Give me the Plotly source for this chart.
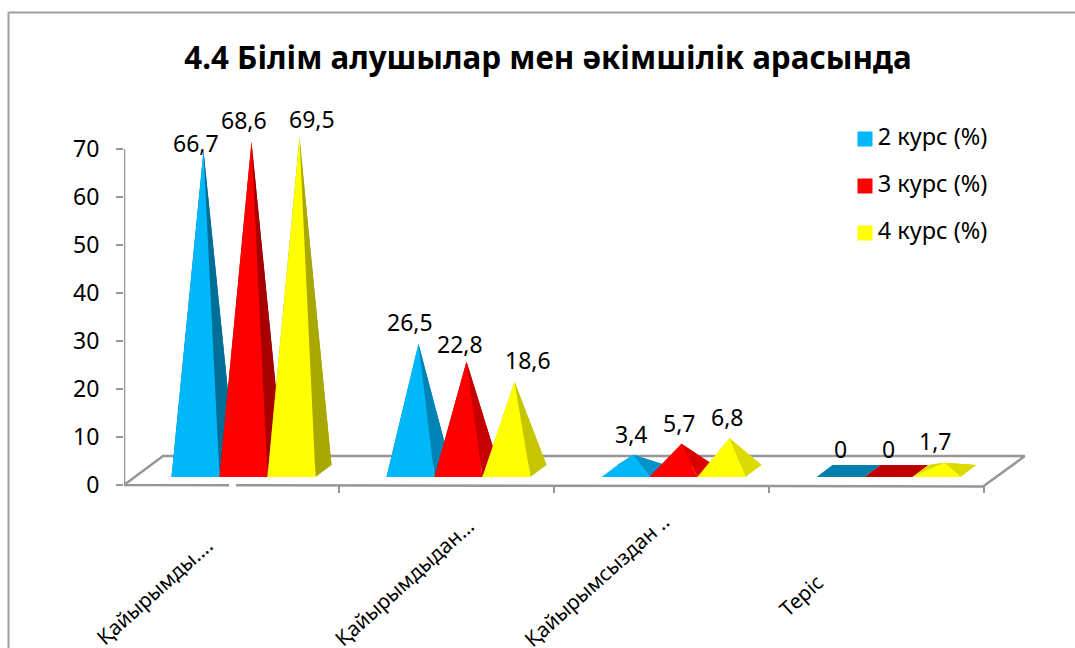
import plotly.graph_objects as go

# ---- data ----
categories = ["Қайырымды....", "Қайырымдыдан...", "Қайырымсыздан ..", "Теріс"]
series_names = ["2 курс (%)", "3 курс (%)", "4 курс (%)"]
course2 = [66.7, 26.5, 3.4, 0]
course3 = [68.6, 22.8, 5.7, 0]
course4 = [69.5, 18.6, 6.8, 1.7]
y_ticks = [0, 10, 20, 30, 40, 50, 60, 70]
title_text = "4.4 Білім алушылар мен әкімшілік арасында"

# ---- styles ----
FONT = "Noto Sans"
W, H = 1075, 648
L, R, T, B = 124, 1025, 149, 485   # pixel box of the value scale
PLOT_TOP, PLOT_BOTTOM = 100, 493   # pixel box of the drawing area
X_PER_CAT = 215.0
Y_PER_UNIT = (B - T) / 70.0
GRAY = "#969696"
front_colors = ["#00B7F9", "#FF0000", "#FFFF00"]
side_rgb = [(0, 182, 249), (255, 0, 0), (255, 255, 0)]


def xd(px):
    return -0.5 + (px - L) / X_PER_CAT


def yd(px):
    return (B - px) / Y_PER_UNIT


def shade(i, v):
    # steep faces are darker than shallow ones
    f = 0.86 if v < 10 else (0.78 if v < 30 else 0.66)
    if v == 0:
        f = 0.75
    r, g, b = side_rgb[i]
    if i == 0:
        f -= 0.05
    return f"rgb({int(r*f)},{int(g*f)},{int(b*f)})"


bar_w = 48 / X_PER_CAT
depth_x = 16 / X_PER_CAT
depth_y = 12 / Y_PER_UNIT
base_y = yd(477)
group_shift = (195 - 231) / X_PER_CAT  # centre of first pyramid relative to category centre

fig = go.Figure()


def poly(xs, ys, color, name):
    fig.add_trace(go.Scatter(
        x=xs, y=ys, mode="lines", fill="toself", fillcolor=color,
        line=dict(width=0, color=color), hoverinfo="skip", showlegend=False,
        name=name, cliponaxis=False))


# floor outline and value axis line
floor_x = [xd(L), xd(163), xd(R), xd(983), xd(L)]
floor_y = [yd(485), yd(456), yd(456), yd(486.5), yd(485)]
fig.add_trace(go.Scatter(x=floor_x, y=floor_y, mode="lines",
                         line=dict(color=GRAY, width=2.5), hoverinfo="skip",
                         showlegend=False, cliponaxis=False))
fig.add_trace(go.Scatter(x=[xd(L), xd(L)], y=[0, 70], mode="lines",
                         line=dict(color=GRAY, width=2.5), hoverinfo="skip",
                         showlegend=False, cliponaxis=False))

series = [course2, course3, course4]
label_dx = [[-8, -8, 12], [-9, -7, 13], [-3, -3, -3], [-8, -8, -10]]
label_dy = [[8, 22, 18], [22, 18, 22], [21, 21, 21], [22, 22, 22]]
annots = []

for c in range(len(categories)):
    for s in range(3):
        v = series[s][c]
        fl = c + group_shift + (s - 0.5) * bar_w
        fr = fl + bar_w
        bl, br = fl + depth_x, fr + depth_x
        yf, yb = base_y, base_y + depth_y
        ax = (fl + br) / 2
        ay = (yf + yb) / 2 + v
        dark = shade(s, v)
        if v == 0:
            poly([fl, fr, br, bl, fl], [yf, yf, yb, yb, yf], dark, series_names[s])
        else:
            poly([fl, bl, ax, fl], [yf, yb, ay, yf], dark, series_names[s])
            poly([bl, br, ax, bl], [yb, yb, ay, yb], dark, series_names[s])
            poly([fr, br, ax, fr], [yf, yb, ay, yf], dark, series_names[s])
            poly([fl, fr, ax, fl], [yf, yf, ay, yf], front_colors[s], series_names[s])
        annots.append(dict(
            x=ax, y=ay, xref="x", yref="y", text=f"{v}".replace(".", ","),
            showarrow=False, xshift=label_dx[c][s], yshift=label_dy[c][s],
            font=dict(family=FONT, size=23, color="#000000")))

# category labels (top-right corner anchored at the end of the rotated text)
cat_end_px = [(221, 529), (482, 509), (678, 505), (832, 565)]
for text, (ex, ey) in zip(categories, cat_end_px):
    annots.append(dict(
        x=xd(ex), y=(PLOT_BOTTOM - ey) / (PLOT_BOTTOM - PLOT_TOP), xref="x", yref="paper",
        text=text, textangle=-42, xanchor="right", yanchor="top", showarrow=False,
        font=dict(family=FONT, size=20.5, color="#000000")))

# legend key
legend_y_px = [139, 186, 233]
fig.add_trace(go.Scatter(
    x=[xd(865)] * 3, y=[yd(p) for p in legend_y_px], mode="markers+text",
    marker=dict(symbol="square", size=15, color=front_colors),
    text=["\u200a" + n for n in series_names], textposition="middle right",
    textfont=dict(family=FONT, size=23.5, color="#000000"),
    hoverinfo="skip", showlegend=False, cliponaxis=False))


def px_x(p):
    return (p - L) / (R - L)


def px_y(p):
    return (PLOT_BOTTOM - p) / (PLOT_BOTTOM - PLOT_TOP)


frame = [
    dict(type="line", xref="paper", yref="paper", x0=px_x(8.5), x1=px_x(8.5),
         y0=px_y(648), y1=px_y(12.5), line=dict(color="#a0a0a0", width=2), layer="below"),
    dict(type="line", xref="paper", yref="paper", x0=px_x(8.5), x1=px_x(1075),
         y0=px_y(12.5), y1=px_y(12.5), line=dict(color="#a0a0a0", width=2), layer="below"),
    dict(type="line", xref="paper", yref="paper", x0=px_x(229), x1=px_x(236),
         y0=px_y(485.8), y1=px_y(485.8), line=dict(color="#ffffff", width=4), layer="above"),
]

fig.update_layout(
    width=W, height=H, autosize=False,
    margin=dict(l=L, r=W - R, t=PLOT_TOP, b=H - PLOT_BOTTOM, pad=0),
    paper_bgcolor="white", plot_bgcolor="white",
    showlegend=False,
    title=dict(text=f"<b>{title_text}</b>", x=548 / W, y=1 - 58 / H,
               xanchor="center", yanchor="middle",
               font=dict(family=FONT, size=31.3, color="#000000")),
    xaxis=dict(range=[xd(L), xd(R)], showgrid=False, zeroline=False, showline=False,
               tickmode="array", tickvals=[-0.5, 0.5, 1.5, 2.5, 3.5], ticktext=[""] * 5,
               ticks="inside", ticklen=8, tickwidth=2, tickcolor=GRAY),
    yaxis=dict(range=[yd(PLOT_BOTTOM), yd(PLOT_TOP)], showgrid=False, zeroline=False,
               showline=False, tickmode="array", tickvals=y_ticks,
               ticks="outside", ticklen=7, tickwidth=2, tickcolor=GRAY,
               ticklabelstandoff=12,
               tickfont=dict(family=FONT, size=23, color="#000000")),
    annotations=annots,
    shapes=frame,
)

fig.write_html("out.html", config=dict(displayModeBar=False),
               post_script="document.body.style.margin='0';document.body.style.overflow='hidden';")
